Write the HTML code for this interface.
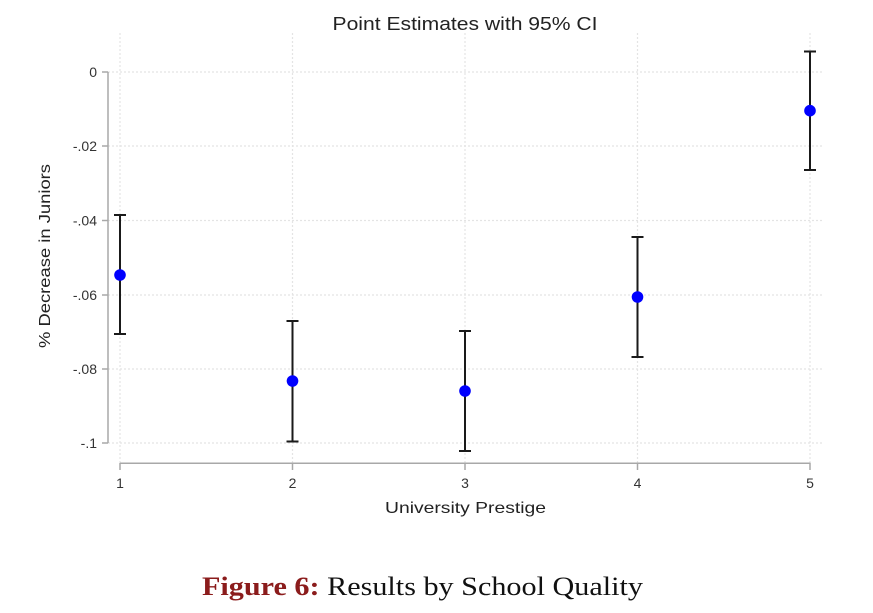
<!DOCTYPE html>
<html><head><meta charset="utf-8"><style>
html,body{margin:0;padding:0;background:#fff;}
svg{display:block;}
</style></head><body>
<svg width="873" height="613" viewBox="0 0 873 613" xmlns="http://www.w3.org/2000/svg">
<rect width="873" height="613" fill="#fff"/>
<!-- title -->
<text x="465" y="30" font-family="Liberation Sans, sans-serif" font-size="18" fill="#222" text-anchor="middle" textLength="265" lengthAdjust="spacingAndGlyphs">Point Estimates with 95% CI</text>
<!-- grid -->
<g stroke="#e4e4e4" stroke-width="1.2" stroke-dasharray="2,2" fill="none">
<line x1="108" y1="72" x2="823" y2="72"/>
<line x1="108" y1="146" x2="823" y2="146"/>
<line x1="108" y1="220.5" x2="823" y2="220.5"/>
<line x1="108" y1="295" x2="823" y2="295"/>
<line x1="108" y1="369" x2="823" y2="369"/>
<line x1="108" y1="443" x2="823" y2="443"/>
<line x1="120" y1="33" x2="120" y2="463"/>
<line x1="292.5" y1="33" x2="292.5" y2="463"/>
<line x1="465" y1="33" x2="465" y2="463"/>
<line x1="637.5" y1="33" x2="637.5" y2="463"/>
<line x1="810" y1="33" x2="810" y2="463"/>
</g>
<!-- axes -->
<g stroke="#a8a8a8" stroke-width="1.5" fill="none">
<line x1="108" y1="72" x2="108" y2="443"/>
<line x1="102" y1="72" x2="108" y2="72"/>
<line x1="102" y1="146" x2="108" y2="146"/>
<line x1="102" y1="220.5" x2="108" y2="220.5"/>
<line x1="102" y1="295" x2="108" y2="295"/>
<line x1="102" y1="369" x2="108" y2="369"/>
<line x1="102" y1="443" x2="108" y2="443"/>
<line x1="120" y1="463.3" x2="810.5" y2="463.3"/>
<line x1="120" y1="463" x2="120" y2="470"/>
<line x1="292.5" y1="463" x2="292.5" y2="470"/>
<line x1="465" y1="463" x2="465" y2="470"/>
<line x1="637.5" y1="463" x2="637.5" y2="470"/>
<line x1="810" y1="463" x2="810" y2="470"/>
</g>
<!-- y tick labels -->
<g font-family="Liberation Sans, sans-serif" font-size="14" fill="#333" text-anchor="end">
<text x="97" y="77">0</text>
<text x="97" y="151">-.02</text>
<text x="97" y="225.5">-.04</text>
<text x="97" y="300">-.06</text>
<text x="97" y="374">-.08</text>
<text x="97" y="448">-.1</text>
</g>
<!-- x tick labels -->
<g font-family="Liberation Sans, sans-serif" font-size="14" fill="#333" text-anchor="middle">
<text x="120" y="488">1</text>
<text x="292.5" y="488">2</text>
<text x="465" y="488">3</text>
<text x="637.5" y="488">4</text>
<text x="810" y="488">5</text>
</g>
<text x="465.5" y="513" font-family="Liberation Sans, sans-serif" font-size="16" fill="#222" text-anchor="middle" textLength="161" lengthAdjust="spacingAndGlyphs">University Prestige</text>
<text transform="translate(50,256) rotate(-90)" font-family="Liberation Sans, sans-serif" font-size="16" fill="#222" text-anchor="middle" textLength="184" lengthAdjust="spacingAndGlyphs">% Decrease in Juniors</text>
<!-- error bars -->
<g stroke="#1a1a1a" stroke-width="2" fill="none">
<line x1="120" y1="215" x2="120" y2="334"/>
<line x1="114" y1="215" x2="126" y2="215"/>
<line x1="114" y1="334" x2="126" y2="334"/>
<line x1="292.5" y1="321" x2="292.5" y2="441.5"/>
<line x1="286.5" y1="321" x2="298.5" y2="321"/>
<line x1="286.5" y1="441.5" x2="298.5" y2="441.5"/>
<line x1="465" y1="331" x2="465" y2="451"/>
<line x1="459" y1="331" x2="471" y2="331"/>
<line x1="459" y1="451" x2="471" y2="451"/>
<line x1="637.5" y1="237" x2="637.5" y2="357"/>
<line x1="631.5" y1="237" x2="643.5" y2="237"/>
<line x1="631.5" y1="357" x2="643.5" y2="357"/>
<line x1="810" y1="51.5" x2="810" y2="170"/>
<line x1="804" y1="51.5" x2="816" y2="51.5"/>
<line x1="804" y1="170" x2="816" y2="170"/>
</g>
<!-- points -->
<g fill="#0000ff">
<circle cx="120" cy="275" r="5.8"/>
<circle cx="292.5" cy="381" r="5.8"/>
<circle cx="465" cy="391" r="5.8"/>
<circle cx="637.5" cy="297" r="5.8"/>
<circle cx="810" cy="110.7" r="5.8"/>
</g>
<!-- caption -->
<text x="202" y="595" font-family="Liberation Serif, serif" font-size="26" fill="#111" textLength="441" lengthAdjust="spacingAndGlyphs"><tspan font-weight="bold" fill="#8b1c1c">Figure 6:</tspan> Results by School Quality</text>
</svg>
</body></html>
